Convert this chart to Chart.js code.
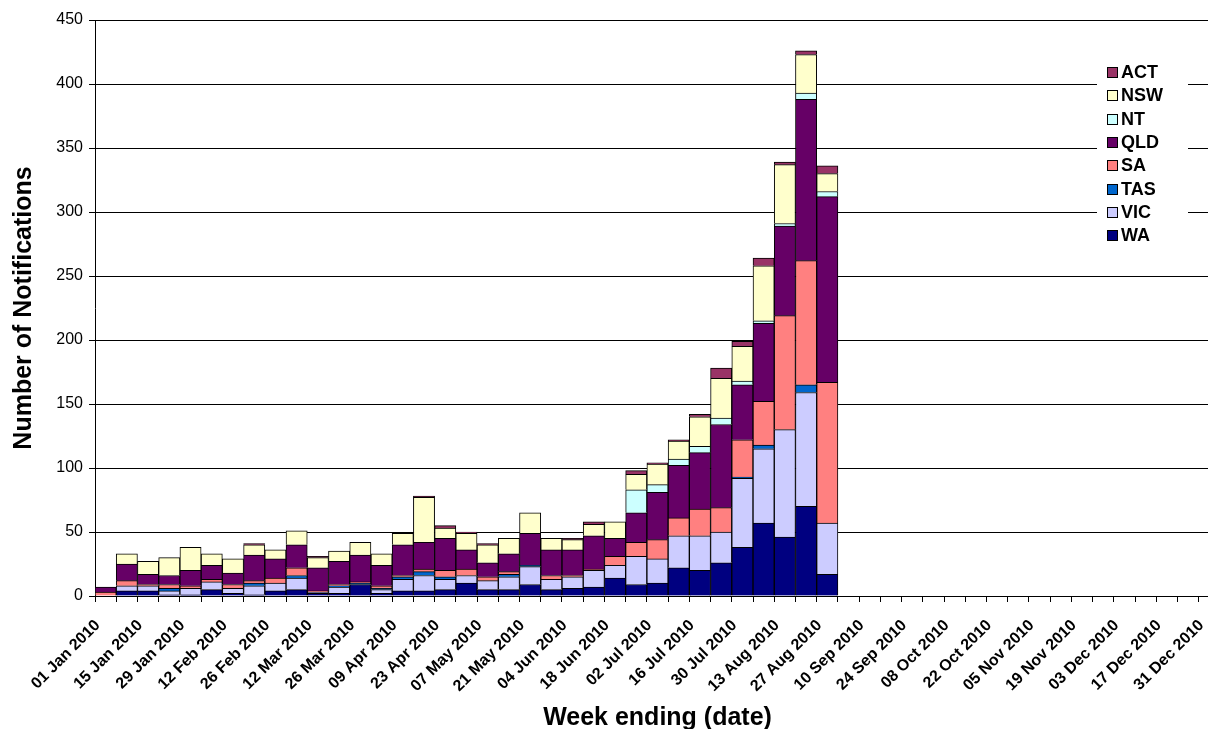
<!DOCTYPE html>
<html>
<head>
<meta charset="utf-8">
<script src="https://cdn.jsdelivr.net/npm/chart.js@4.4.1/dist/chart.umd.min.js"></script>
<style>
  html, body { margin: 0; padding: 0; overflow: hidden; background: #fff; }
  #wrap { position: absolute; left: 0; top: 0; width: 1222px; height: 729px; }
</style>
</head>
<body>
<div id="wrap"><canvas id="notifChart" width="1222" height="729"></canvas></div>
<script>
// week ending dates, 2010
const weeks = [
  '01 Jan 2010', '08 Jan 2010', '15 Jan 2010', '22 Jan 2010', '29 Jan 2010',
  '05 Feb 2010', '12 Feb 2010', '19 Feb 2010', '26 Feb 2010',
  '05 Mar 2010', '12 Mar 2010', '19 Mar 2010', '26 Mar 2010',
  '02 Apr 2010', '09 Apr 2010', '16 Apr 2010', '23 Apr 2010', '30 Apr 2010',
  '07 May 2010', '14 May 2010', '21 May 2010', '28 May 2010',
  '04 Jun 2010', '11 Jun 2010', '18 Jun 2010', '25 Jun 2010',
  '02 Jul 2010', '09 Jul 2010', '16 Jul 2010', '23 Jul 2010', '30 Jul 2010',
  '06 Aug 2010', '13 Aug 2010', '20 Aug 2010', '27 Aug 2010',
  '03 Sep 2010', '10 Sep 2010', '17 Sep 2010', '24 Sep 2010',
  '01 Oct 2010', '08 Oct 2010', '15 Oct 2010', '22 Oct 2010', '29 Oct 2010',
  '05 Nov 2010', '12 Nov 2010', '19 Nov 2010', '26 Nov 2010',
  '03 Dec 2010', '10 Dec 2010', '17 Dec 2010', '24 Dec 2010', '31 Dec 2010'
];

// notifications per state (weeks with data only, 01 Jan - 27 Aug)
const WA  = [0,4,4,1,1,5,2,1,4,5,2,2,9,2,4,4,5,10,5,5,9,5,6,7,14,9,10,22,20,26,38,57,46,70,17];
const VIC = [0,4,4,3,5,6,4,7,6,9,1,5,0,3,9,12,8,6,7,10,14,8,9,13,10,22,19,25,27,24,54,58,84,89,40];
const TAS = [0,0,0,2,0,0,0,2,0,2,0,1,1,1,2,3,2,0,0,2,1,0,0,0,0,0,0,0,0,0,1,3,0,6,0];
const SA  = [3,4,1,3,2,2,3,2,4,6,1,1,1,2,1,2,5,5,3,2,0,3,1,1,7,11,15,14,21,19,29,34,89,97,110];
const QLD = [4,13,8,7,12,11,9,20,15,18,18,18,21,16,24,21,25,15,11,14,25,20,20,26,14,23,37,41,44,65,43,61,70,126,145];
const NT  = [0,0,0,0,0,0,0,0,0,0,0,0,0,0,0,0,0,0,0,0,0,0,0,0,0,18,6,5,5,5,3,2,2,5,4];
const NSW = [0,8,10,14,18,9,11,8,7,11,8,8,10,9,9,35,8,13,14,12,16,9,8,9,13,12,16,14,23,31,27,43,46,30,14];
const ACT = [0,0,0,0,0,0,0,1,0,0,1,0,0,0,0,1,2,1,1,0,0,0,1,2,0,3,1,1,2,8,4,6,2,3,6];

const yTicks = [0, 50, 100, 150, 200, 250, 300, 350, 400, 450];

const FONT = '"Liberation Sans", Arial, sans-serif';

// legend sits inside the plot, on a white patch, like the original
const insideLegend = {
  id: 'insideLegend',
  afterDraw(chart) {
    const ctx = chart.ctx;
    const sets = chart.data.datasets.slice().reverse();
    ctx.save();
    ctx.fillStyle = '#fff';
    ctx.fillRect(1097, 58, 91, 190);
    ctx.font = 'bold 18px ' + FONT;
    ctx.textBaseline = 'middle';
    sets.forEach((ds, i) => {
      const y = Math.round(72 + i * 23.3);
      ctx.fillStyle = ds.backgroundColor;
      ctx.fillRect(1107, y - 5, 11, 11);
      ctx.strokeStyle = '#000';
      ctx.lineWidth = 1;
      ctx.strokeRect(1107.5, y - 4.5, 10, 10);
      ctx.fillStyle = '#000';
      ctx.fillText(ds.label, 1121, y + 1);
    });
    ctx.restore();
  }
};

function stateSet(label, data, color) {
  return {
    label: label,
    data: data,
    backgroundColor: color,
    borderColor: '#000',
    borderWidth: 1,
    barPercentage: 1,
    categoryPercentage: 1
  };
}

const ctx = document.getElementById('notifChart').getContext('2d');
new Chart(ctx, {
  type: 'bar',
  data: {
    labels: weeks,
    datasets: [
      stateSet('WA', WA, '#000080'),
      stateSet('VIC', VIC, '#CCCCFF'),
      stateSet('TAS', TAS, '#0066CC'),
      stateSet('SA', SA, '#FF8080'),
      stateSet('QLD', QLD, '#660066'),
      stateSet('NT', NT, '#CCFFFF'),
      stateSet('NSW', NSW, '#FFFFCC'),
      stateSet('ACT', ACT, '#993366')
    ]
  },
  options: {
    responsive: false,
    animation: false,
    layout: { padding: { top: 20, right: 2, left: 0, bottom: 0 } },
    plugins: {
      legend: { display: false },
      tooltip: { enabled: false }
    },
    scales: {
      x: {
        stacked: true,
        grid: { drawOnChartArea: false, color: '#000', tickLength: 6 },
        border: { color: '#000' },
        ticks: {
          autoSkip: false,
          maxRotation: 45,
          minRotation: 45,
          padding: 14,
          labelOffset: -8,
          color: '#000',
          font: { family: FONT, size: 16, weight: 'bold' },
          callback: (v, i) => (i % 2 === 0 ? weeks[i] : '')
        },
        title: {
          display: true,
          text: 'Week ending (date)',
          color: '#000',
          font: { family: FONT, size: 25, weight: 'bold', lineHeight: 0.9 },
          padding: { top: 0, bottom: 0 }
        },
        afterFit: (scale) => {
          scale.height = 133;
          // keep the plot edges fixed, labels may hang outside
          scale.paddingLeft = 0;
          scale.paddingRight = 0;
        }
      },
      y: {
        stacked: true,
        min: 0,
        max: 450,
        afterBuildTicks: (scale) => { scale.ticks = yTicks.map(v => ({ value: v })); },
        grid: { color: '#000', tickLength: 6 },
        border: { color: '#000' },
        ticks: {
          padding: 6,
          color: '#000',
          font: { family: FONT, size: 16 }
        },
        title: {
          display: true,
          text: 'Number of Notifications',
          color: '#000',
          font: { family: FONT, size: 25, weight: 'bold', lineHeight: 1.2 },
          padding: { top: 9, bottom: 0 }
        },
        afterFit: (scale) => { scale.width = 95; }
      }
    }
  },
  plugins: [insideLegend]
});
</script>
</body>
</html>
